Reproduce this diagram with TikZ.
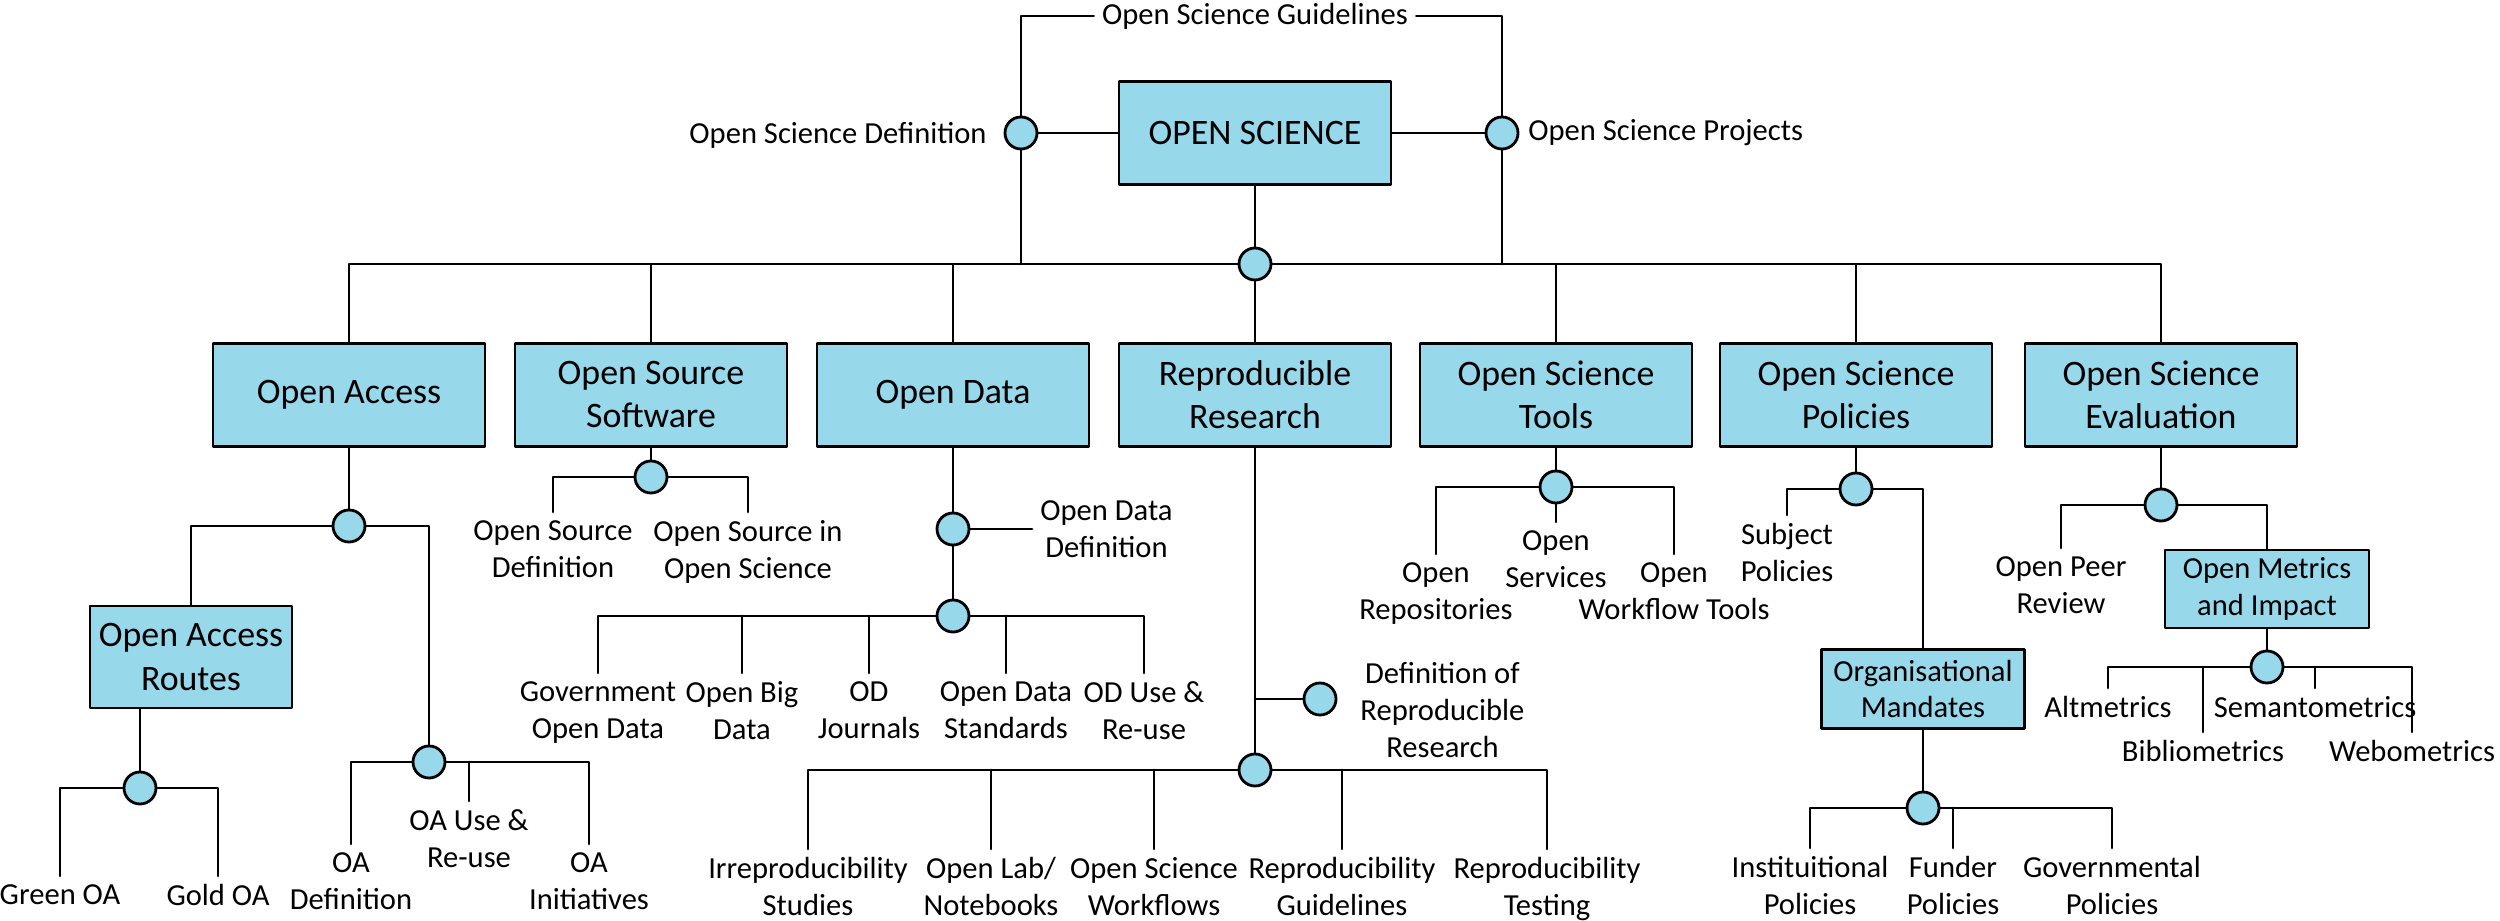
\documentclass[tikz,border=0pt]{standalone}
\usepackage{fontspec}
\setmainfont{Carlito}
\usepackage{xcolor}
\definecolor{osblue}{RGB}{151,216,235}
\newcommand{\lblfont}{\fontsize{8.7}{10.5}\selectfont}
\newcommand{\boxfont}{\fontsize{10.2}{12.24}\selectfont}
\begin{document}
\begin{tikzpicture}[line cap=round,line join=round,x=0.1mm,y=-0.1mm,line width=0.8pt,
    topic/.style={draw,fill=osblue,align=center,font=\boxfont,inner sep=0pt,minimum width=27.2mm,minimum height=10.3mm},
    subtopic/.style={draw,fill=osblue,align=center,font=\lblfont,inner sep=0pt,minimum width=20.3mm,minimum height=7.9mm},
    dot/.style={circle,draw,fill=osblue,inner sep=0pt,minimum size=3.2mm},
    lbl/.style={align=center,font=\lblfont,inner xsep=2pt,inner ysep=1pt},
    leaf/.style={lbl,anchor=north,inner ysep=2pt}]
                \useasboundingbox (0,0) rectangle (2500,921);
                \node[topic] (os) at (1255,133) {OPEN SCIENCE};
                \node[dot] (jdef) at (1021,133) {};
                \node[dot] (jproj) at (1502,133) {};
                \node[dot] (jmain) at (1255,264) {};
                \node[lbl,anchor=east] (osdef) at (995,135) {Open Science Definition};
                \node[lbl,anchor=west] (osproj) at (1520,133) {Open Science Projects};
                \node[lbl] (osguide) at (1255,16) {Open Science Guidelines};
                \draw (osguide) -| (jdef);
                \draw (osguide) -| (jproj);
                \draw (jdef) -- (jdef |- jmain);
                \draw (jproj) -- (jproj |- jmain);
                \draw (jdef) -- (os);
                \draw (os) -- (jproj);
                \draw (os) -- (jmain);
                \node[topic] (oa) at (349,395) {Open Access};
                \node[topic] (oss) at (651,395) {Open Source\\Software};
                \node[topic] (od) at (953,395) {Open Data};
                \node[topic] (rr) at (1255,395) {Reproducible\\Research};
                \node[topic] (ost) at (1556,395) {Open Science\\Tools};
                \node[topic] (osp) at (1856,395) {Open Science\\Policies};
                \node[topic] (ose) at (2161,395) {Open Science\\Evaluation};
                \draw (jmain) -| (oa);
                \draw (jmain) -| (oss);
                \draw (jmain) -| (od);
                \draw (jmain) -- (rr);
                \draw (jmain) -| (ost);
                \draw (jmain) -| (osp);
                \draw (jmain) -| (ose);
                \node[dot] (joa) at (349,526) {};
                \node[topic,minimum width=20.2mm,minimum height=10.2mm] (oar) at (191,657) {Open Access\\Routes};
                \node[dot] (jr) at (140,788) {};
                \node[dot] (jacc) at (429,762) {};
                \node[leaf] (green) at (60,876) {Green OA};
                \node[leaf] (gold) at (218,876) {Gold OA};
                \node[leaf] (oadef) at (351,844) {OA\\Definition};
                \node[leaf] (oause) at (469,801) {OA Use \&\\Re-use};
                \node[leaf] (oaini) at (589,844) {OA\\Initiatives};
                \draw (oa) -- (joa);
                \draw (joa) -| (oar);
                \draw (oar.south -| jr) -- (jr);
                \draw (jr) -| (green);
                \draw (jr) -| (gold);
                \draw (joa) -| (jacc);
                \draw (jacc) -| (oadef);
                \draw (jacc) -| (oaini);
                \draw (oause |- jacc) -- (oause);
                \node[dot] (joss) at (651,477) {};
                \node[leaf] (osdefn) at (553,512) {Open Source\\Definition};
                \node[leaf] (osin) at (748,512) {Open Source in\\Open Science};
                \draw (oss) -- (joss);
                \draw (joss) -| (osdefn);
                \draw (joss) -| (osin);
                \node[dot] (jodd) at (953,529) {};
                \node[dot] (jodl) at (953,616) {};
                \node[lbl,anchor=west] (oddef) at (1032,529) {Open Data\\Definition};
                \node[leaf] (gov) at (598,673) {Government\\Open Data};
                \node[leaf] (obig) at (742,673) {Open Big\\Data};
                \node[leaf] (odj) at (869,673) {OD\\Journals};
                \node[leaf] (ods) at (1006,673) {Open Data\\Standards};
                \node[leaf] (oduse) at (1144,673) {OD Use \&\\Re-use};
                \draw (od) -- (jodd);
                \draw (jodd) -- (jodl);
                \draw (jodd) -- (oddef);
                \draw (jodl) -| (gov);
                \draw (jodl) -| (oduse);
                \draw (obig |- jodl) -- (obig);
                \draw (odj |- jodl) -- (odj);
                \draw (ods |- jodl) -- (ods);
                \node[dot] (jrrd) at (1320,699) {};
                \node[dot] (jrr) at (1255,770) {};
                \node[lbl,anchor=west] (rrdef) at (1352,710) {Definition of\\Reproducible\\Research};
                \node[leaf] (irr) at (808,849) {Irreproducibility\\Studies};
                \node[leaf] (olab) at (991,849) {Open Lab/\\Notebooks};
                \node[leaf] (osw) at (1154,849) {Open Science\\Workflows};
                \node[leaf] (rg) at (1342,849) {Reproducibility\\Guidelines};
                \node[leaf] (rt) at (1547,849) {Reproducibility\\Testing};
                \draw (rr) -- (jrr);
                \draw (rr.south |- jrrd) -- (jrrd);
                \draw (jrr) -| (irr);
                \draw (jrr) -| (rt);
                \draw (olab |- jrr) -- (olab);
                \draw (osw |- jrr) -- (osw);
                \draw (rg |- jrr) -- (rg);
                \node[dot] (jost) at (1556,487) {};
                \node[leaf] (orep) at (1436,554) {Open\\Repositories};
                \node[leaf] (osvc) at (1556,522) {Open\\Services};
                \node[leaf] (owt) at (1674,554) {Open\\Workflow Tools};
                \draw (ost) -- (jost);
                \draw (jost) -| (orep);
                \draw (jost) -| (owt);
                \draw (jost) -- (osvc);
                \node[dot] (josp) at (1856,489) {};
                \node[leaf] (subj) at (1787,515) {Subject\\Policies};
                \node[subtopic] (om) at (1923,689) {Organisational\\Mandates};
                \node[dot] (jom) at (1923,808) {};
                \node[leaf] (inst) at (1810,848) {Instituitional\\Policies};
                \node[leaf] (fund) at (1953,848) {Funder\\Policies};
                \node[leaf] (govp) at (2112,848) {Governmental\\Policies};
                \draw (osp) -- (josp);
                \draw (josp) -| (subj);
                \draw (josp) -| (om);
                \draw (om) -- (jom);
                \draw (jom) -| (inst);
                \draw (jom) -| (govp);
                \draw (fund |- jom) -- (fund);
                \node[dot] (jose) at (2161,505) {};
                \node[leaf] (opr) at (2061,548) {Open Peer\\Review};
                \node[subtopic,minimum width=20.4mm,minimum height=7.8mm] (omi) at (2267,589) {Open Metrics\\and Impact};
                \node[dot] (jomi) at (2267,667) {};
                \node[leaf] (alt) at (2108,688) {Altmetrics};
                \node[leaf] (bib) at (2203,732) {Bibliometrics};
                \node[leaf] (sem) at (2315,688) {Semantometrics};
                \node[leaf] (web) at (2412,732) {Webometrics};
                \draw (ose) -- (jose);
                \draw (jose) -| (opr);
                \draw (jose) -| (omi);
                \draw (omi) -- (jomi);
                \draw (jomi) -| (alt);
                \draw (jomi) -| (web);
                \draw (bib |- jomi) -- (bib);
                \draw (sem |- jomi) -- (sem);
\end{tikzpicture}
\end{document}
